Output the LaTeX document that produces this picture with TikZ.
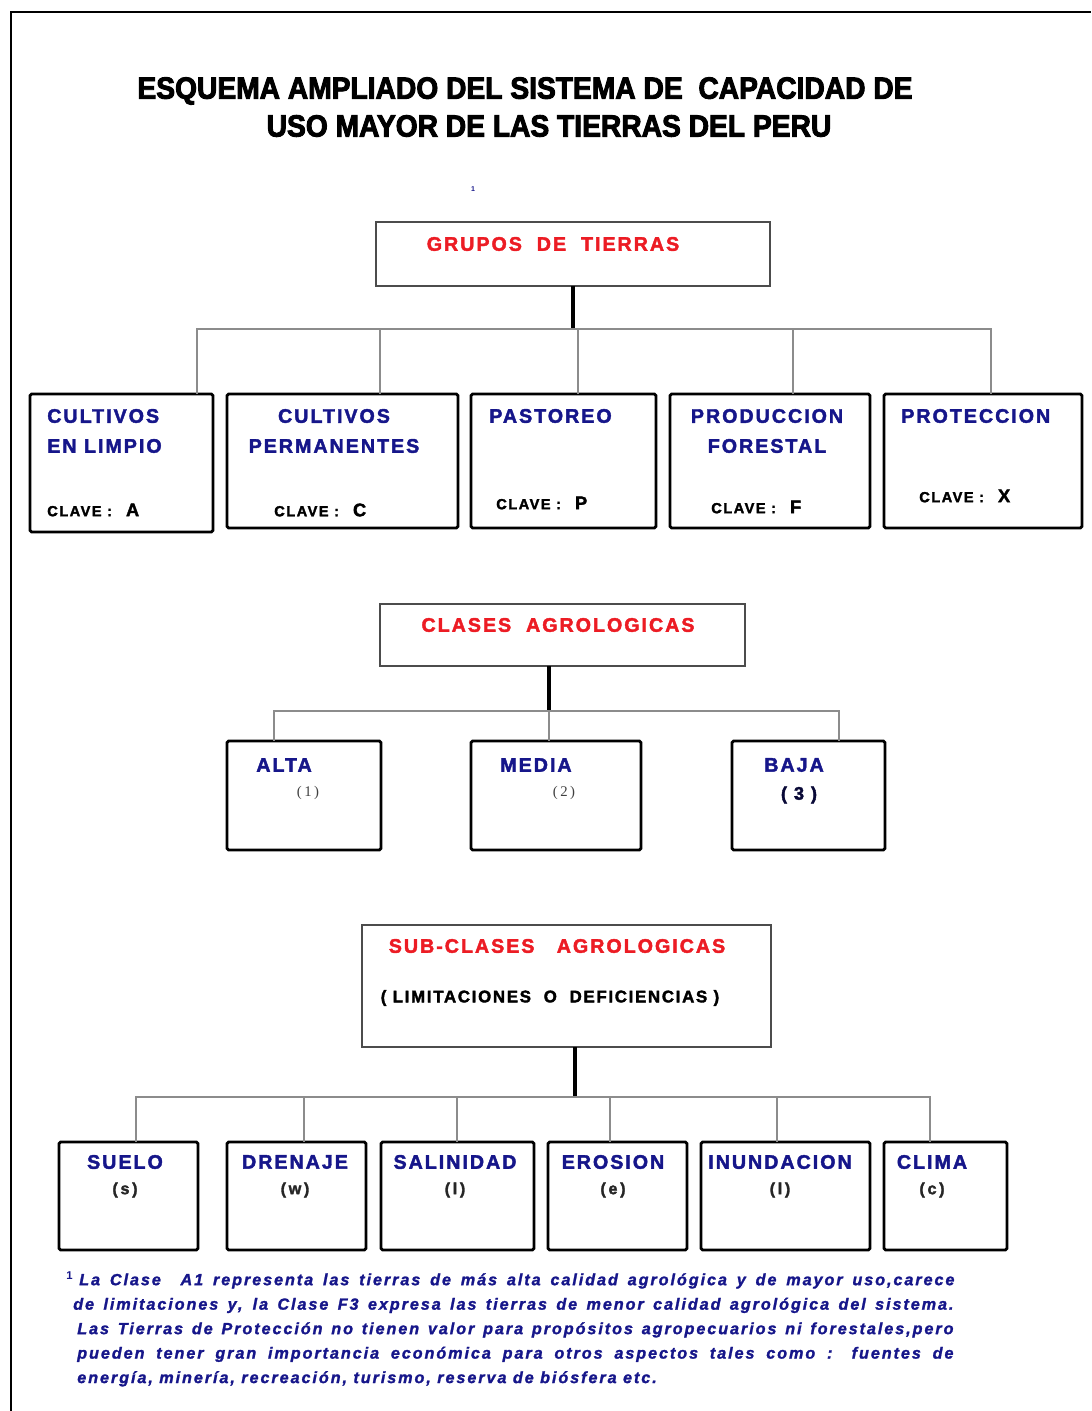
\documentclass[tikz,border=0pt]{standalone}
\usepackage{fontspec}
\usepackage{tikz}
\usetikzlibrary{positioning, calc}
\setmainfont{Liberation Sans}
\newfontfamily\titlefont{Liberation Sans}[FakeStretch=0.92,BoldFeatures={FakeBold=3}]
\newfontfamily\boxfont{Liberation Sans}[LetterSpace=10,BoldFeatures={FakeBold=2}]
\newfontfamily\notefont{Liberation Sans}[LetterSpace=12,BoldItalicFeatures={FakeBold=1.5}]
\newfontfamily\smallserif{Liberation Serif}
\definecolor{Navy}{HTML}{16168A}
\definecolor{Rojo}{HTML}{EC1C24}
\definecolor{LineGray}{HTML}{8C8C8C}
\newcommand{\pxu}{0.025cm}
\newcommand{\clave}[1]{CLAVE :\hspace{0.35cm}{\fontsize{13}{13}\selectfont #1}}

\begin{document}
\begin{tikzpicture}[x=0.025cm, y=-0.025cm,
    header/.style 2 args={draw=black!70, line width=0.9pt, minimum width=#1*\pxu,
        minimum height=#2*\pxu, inner sep=0pt, outer sep=0pt},
    cell/.style 2 args={draw=black, line width=2pt, rounded corners=1.2pt,
        minimum width=#1*\pxu, minimum height=#2*\pxu, inner sep=0pt, outer sep=0pt},
    stem/.style={line width=2.2pt, black},
    bus/.style={line width=0.9pt, LineGray},
    redtxt/.style={font=\boxfont\bfseries\fontsize{14}{17}\selectfont, text=Rojo, inner sep=0pt},
    bluetxt/.style={font=\boxfont\bfseries\fontsize{14}{21.3}\selectfont, text=Navy, inner sep=0pt},
    clavetxt/.style={font=\boxfont\bfseries\fontsize{10.4}{12}\selectfont, text=black, inner sep=0pt},
    codetxt/.style={font=\boxfont\bfseries\fontsize{11.5}{13}\selectfont, text=black!85, inner sep=0pt},
    note/.style={font=\notefont\bfseries\itshape\fontsize{11.5}{17.4}\selectfont, text=Navy,
        inner sep=0pt, align=left}]
    \useasboundingbox (0,0) rectangle (1091,1411);

    % page frame
    \draw[line width=1.4pt] (11,1411) -- (11,12) -- (1091,12);

    % Title
    \node[font=\titlefont\bfseries\fontsize{21.8}{26}\selectfont, inner sep=0pt] (tit1) at (525,91)
        {ESQUEMA AMPLIADO DEL SISTEMA DE\ \ CAPACIDAD DE};
    \node[font=\titlefont\bfseries\fontsize{21.8}{26}\selectfont, inner sep=0pt] (tit2) at (549,126)
        {USO MAYOR DE LAS TIERRAS DEL PERU};
    \node[font=\bfseries\fontsize{5}{6}\selectfont, text=Navy, inner sep=0pt] (ref) at (473,189) {1};

    % Grupos de tierras
    \node[header={394}{64}] (grupos) at (573,254) {};
    \node[redtxt] (grupost) at (553,244) {GRUPOS\ \ DE\ \ TIERRAS};
    \node[cell={183}{138}] (g1) at (121.5,463) {};
    \node[cell={231}{134}] (g2) at (342.5,461) {};
    \node[cell={185}{134}] (g3) at (563.5,461) {};
    \node[cell={200}{134}] (g4) at (770,461) {};
    \node[cell={198}{134}] (g5) at (983,461) {};

    \node[bluetxt, anchor=west, align=left] (g1t) at (47,431) {CULTIVOS\\EN LIMPIO};
    \node[bluetxt, align=center] (g2t) at (334,431) {CULTIVOS\\PERMANENTES};
    \node[bluetxt, anchor=west] (g3t) at (489,416) {PASTOREO};
    \node[bluetxt, align=center] (g4t) at (767,431) {PRODUCCION\\FORESTAL};
    \node[bluetxt, anchor=west] (g5t) at (901,416) {PROTECCION};

    \node[clavetxt, anchor=west] (g1c) at (47,510) {\clave{A}};
    \node[clavetxt, anchor=west] (g2c) at (274,510) {\clave{C}};
    \node[clavetxt, anchor=west] (g3c) at (496,503) {\clave{P}};
    \node[clavetxt, anchor=west] (g4c) at (711,507) {\clave{F}};
    \node[clavetxt, anchor=west] (g5c) at (919,496) {\clave{X}};

    \coordinate (bus1) at (573,329);
    \draw[stem] (grupos.south) -- (bus1);
    \foreach \n/\x in {g1/197, g2/380, g3/578, g4/793, g5/991}
        \draw[bus] (bus1) -| (\n.north -| \x,0);

    % Clases agrologicas
    \node[header={365}{62}] (clases) at (562.5,635) {};
    \node[redtxt] (clasest) at (558,625) {CLASES\ \ AGROLOGICAS};
    \node[cell={154}{109}] (c1) at (304,795.5) {};
    \node[cell={170}{109}] (c2) at (556,795.5) {};
    \node[cell={153}{109}] (c3) at (808.5,795.5) {};

    \node[bluetxt, anchor=west] (c1t) at (256,765) {ALTA};
    \node[bluetxt, anchor=west] (c2t) at (500,765) {MEDIA};
    \node[bluetxt, anchor=west] (c3t) at (764,765) {BAJA};
    \node[font=\smallserif\fontsize{10.5}{12}\selectfont, text=black!75, inner sep=0pt] (c1n) at (308,793) {(\,1\,)};
    \node[font=\smallserif\fontsize{10.5}{12}\selectfont, text=black!75, inner sep=0pt] (c2n) at (564,793) {(\,2\,)};
    \node[font=\boxfont\bfseries\fontsize{13}{15}\selectfont, text=Navy!40!black, inner sep=0pt] (c3n) at (799,795) {(\ 3\ )};

    \coordinate (bus2) at (549,711);
    \draw[stem] (clases.south -| bus2) -- (bus2);
    \foreach \n/\x in {c1/274, c2/549, c3/839}
        \draw[bus] (bus2) -| (\n.north -| \x,0);

    % Sub-clases agrologicas
    \node[header={409}{122}] (subclases) at (566.5,986) {};
    \node[redtxt] (subt) at (557,946) {SUB-CLASES\ \ \ AGROLOGICAS};
    \node[font=\boxfont\bfseries\fontsize{12}{14}\selectfont, inner sep=0pt] (subl) at (550,998)
        {(\ LIMITACIONES\ \ O\ \ DEFICIENCIAS\ )};

    \node[cell={139}{108}] (s1) at (128.5,1196) {};
    \node[cell={139}{108}] (s2) at (296.5,1196) {};
    \node[cell={153}{108}] (s3) at (457.5,1196) {};
    \node[cell={139}{108}] (s4) at (617.5,1196) {};
    \node[cell={169}{108}] (s5) at (785.5,1196) {};
    \node[cell={123}{108}] (s6) at (945.5,1196) {};

    \foreach \n/\x/\t/\c in {s1/125/SUELO/s, s2/295/DRENAJE/w, s3/455/SALINIDAD/l,
                             s4/613/EROSION/e, s5/780/INUNDACION/l, s6/932/CLIMA/c} {
        \node[bluetxt] (\n t) at (\x,1162) {\t};
        \node[codetxt] (\n c) at (\x,1190) {(\,\c\,)};
    }

    \coordinate (bus3) at (575,1097);
    \draw[stem] (subclases.south -| bus3) -- (bus3);
    \foreach \n/\x in {s1/136, s2/304, s3/457, s4/610, s5/777, s6/930}
        \draw[bus] (bus3) -| (\n.north -| \x,0);

    % footnote
    \node[note, anchor=north west] (nota) at (66,1271) {%
        \textsuperscript{\upshape 1}\hspace{0.15cm}\makebox[21.875cm][s]{La Clase\ \ A1 representa las tierras de más alta calidad agrológica y de mayor uso,carece}\\
        \hspace*{0.175cm}\makebox[22cm][s]{de limitaciones y, la Clase F3 expresa las tierras de menor calidad agrológica del sistema.}\\
        \hspace*{0.275cm}\makebox[21.9cm][s]{Las Tierras de Protección no tienen valor para propósitos agropecuarios ni forestales,pero}\\
        \hspace*{0.275cm}\makebox[21.9cm][s]{pueden tener gran importancia económica para otros aspectos tales como : fuentes de}\\
        \hspace*{0.275cm}energía, minería, recreación, turismo, reserva de biósfera etc.};
\end{tikzpicture}
\end{document}
